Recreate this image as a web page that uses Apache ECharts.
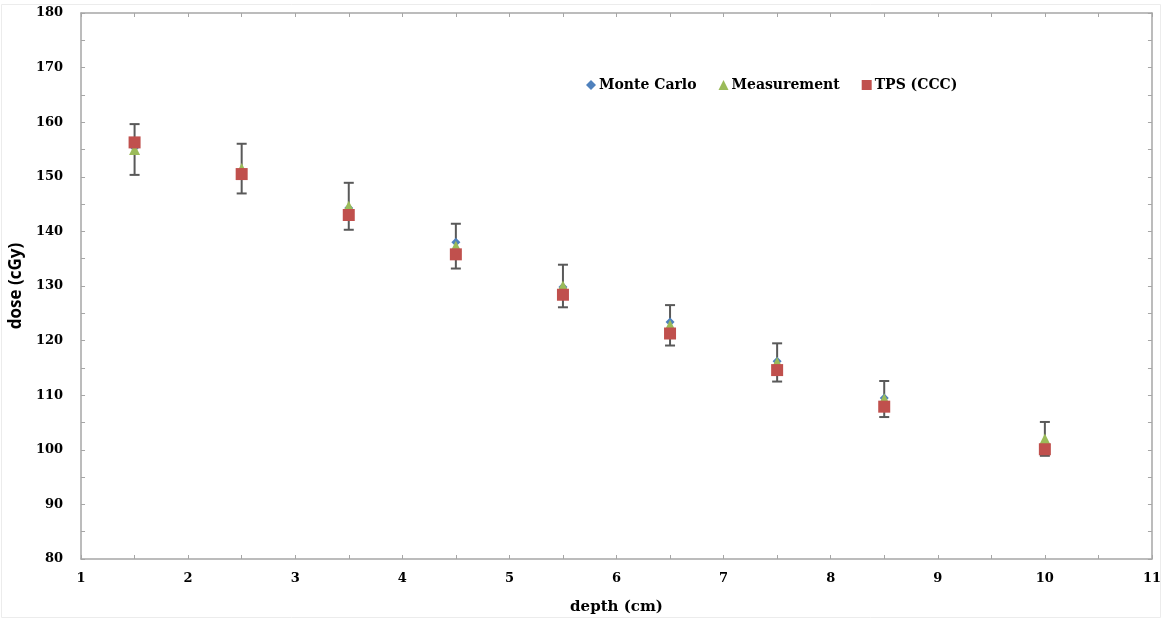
<!DOCTYPE html>
<html>
<head>
<meta charset="utf-8">
<script src="https://cdn.jsdelivr.net/npm/echarts@6/dist/echarts.min.js"></script>
<style>
  html, body { margin: 0; padding: 0; background: #fff; }
  #chart { width: 1164px; height: 621px; }
</style>
</head>
<body>
<div id="chart"></div>
<script>
// Depth positions (cm)
const depths = [1.5, 2.5, 3.5, 4.5, 5.5, 6.5, 7.5, 8.5, 10];
// Dose values (cGy)
const monteCarlo  = [155.3, 151.0, 144.3, 138.0, 129.8, 123.4, 116.2, 109.5, 100.3];
const measurement = [155.0, 151.5, 144.6, 137.3, 130.0, 122.8, 116.0, 109.3, 102.0];
const tpsCCC      = [156.3, 150.5, 143.0, 135.8, 128.4, 121.3, 114.6, 107.9, 100.1];
// Measurement uncertainty (± cGy)
const measErr     = [4.65, 4.55, 4.3, 4.1, 3.9, 3.7, 3.5, 3.3, 3.1];

const seriesNames = ['Monte Carlo', 'Measurement', 'TPS (CCC)'];
const colors = { mc: '#4F81BD', meas: '#9BBB59', tps: '#C0504D' };

const pairs = (ys) => depths.map((x, i) => [x, ys[i]]);
const errData = depths.map((x, i) => [x, measurement[i] - measErr[i], measurement[i] + measErr[i]]);

const tickFont = { fontFamily: 'DejaVu Serif', fontWeight: 'bold', fontSize: 13, color: '#000' };
const frameLine = { show: true, lineStyle: { color: '#a6a6a6', width: 1.5 } };
const tickStyle = { show: true, inside: true, length: 4, lineStyle: { color: '#a6a6a6', width: 1 } };
const minorStyle = { show: true, splitNumber: 2, length: 4, lineStyle: { color: '#a6a6a6', width: 1 } };

const chart = echarts.init(document.getElementById('chart'), null, { renderer: 'canvas' });

chart.setOption({
  backgroundColor: '#fff',
  animation: false,
  graphic: [{
    type: 'rect',
    shape: { x: 1.5, y: 4.5, width: 1159, height: 613 },
    style: { fill: 'none', stroke: '#ececec', lineWidth: 1 },
    silent: true, z: -1
  }],
  grid: { left: 81, right: 10, top: 13, bottom: 62, containLabel: false },
  legend: {
    data: seriesNames,
    left: 581, top: 73,
    itemWidth: 10, itemHeight: 10, itemGap: 22,
    textStyle: { fontFamily: 'DejaVu Serif', fontWeight: 'bold', fontSize: 14, color: '#000', padding: [0, 0, 0, -2] },
    selectedMode: false
  },
  xAxis: [{
    type: 'value', min: 1, max: 11, interval: 1, position: 'bottom',
    name: 'depth (cm)', nameLocation: 'middle', nameGap: 41,
    nameTextStyle: { fontFamily: 'DejaVu Serif', fontWeight: 'bold', fontSize: 15, color: '#000' },
    axisLine: frameLine, axisTick: tickStyle, minorTick: minorStyle,
    axisLabel: Object.assign({ margin: 13 }, tickFont),
    splitLine: { show: false }
  }, {
    type: 'value', min: 1, max: 11, interval: 1, position: 'top',
    axisLine: frameLine, axisTick: tickStyle, minorTick: minorStyle,
    axisLabel: { show: false }, splitLine: { show: false }
  }],
  yAxis: [{
    type: 'value', min: 80, max: 180, interval: 10, position: 'left',
    name: 'dose (cGy)', nameLocation: 'middle', nameGap: 52, nameRotate: 90,
    nameTextStyle: { fontFamily: 'Open Sans', fontWeight: 'bold', fontSize: 17, color: '#000' },
    axisLine: frameLine, axisTick: tickStyle, minorTick: minorStyle,
    axisLabel: Object.assign({ margin: 18 }, tickFont),
    splitLine: { show: false }
  }, {
    type: 'value', min: 80, max: 180, interval: 10, position: 'right',
    axisLine: frameLine, axisTick: tickStyle, minorTick: minorStyle,
    axisLabel: { show: false }, splitLine: { show: false }
  }],
  series: [{
    name: 'errorbars',
    type: 'custom',
    data: errData,
    z: 1,
    renderItem: function (params, api) {
      const x = api.value(0);
      const lo = api.coord([x, api.value(1)]);
      const hi = api.coord([x, api.value(2)]);
      const cap = 5;
      const st = { stroke: '#595959', lineWidth: 2 };
      return {
        type: 'group',
        children: [
          { type: 'line', shape: { x1: lo[0], y1: lo[1], x2: hi[0], y2: hi[1] }, style: st },
          { type: 'line', shape: { x1: hi[0] - cap, y1: hi[1], x2: hi[0] + cap, y2: hi[1] }, style: st },
          { type: 'line', shape: { x1: lo[0] - cap, y1: lo[1], x2: lo[0] + cap, y2: lo[1] }, style: st }
        ]
      };
    }
  }, {
    name: 'Monte Carlo', type: 'scatter', data: pairs(monteCarlo),
    symbol: 'diamond', symbolSize: 9, z: 2,
    itemStyle: { color: colors.mc, opacity: 1 }
  }, {
    name: 'Measurement', type: 'scatter', data: pairs(measurement),
    symbol: 'triangle', symbolSize: 11, z: 3,
    itemStyle: { color: colors.meas, opacity: 1 }
  }, {
    name: 'TPS (CCC)', type: 'scatter', data: pairs(tpsCCC),
    symbol: 'rect', symbolSize: 12, z: 4,
    itemStyle: { color: colors.tps, opacity: 1 }
  }]
});
</script>
</body>
</html>
